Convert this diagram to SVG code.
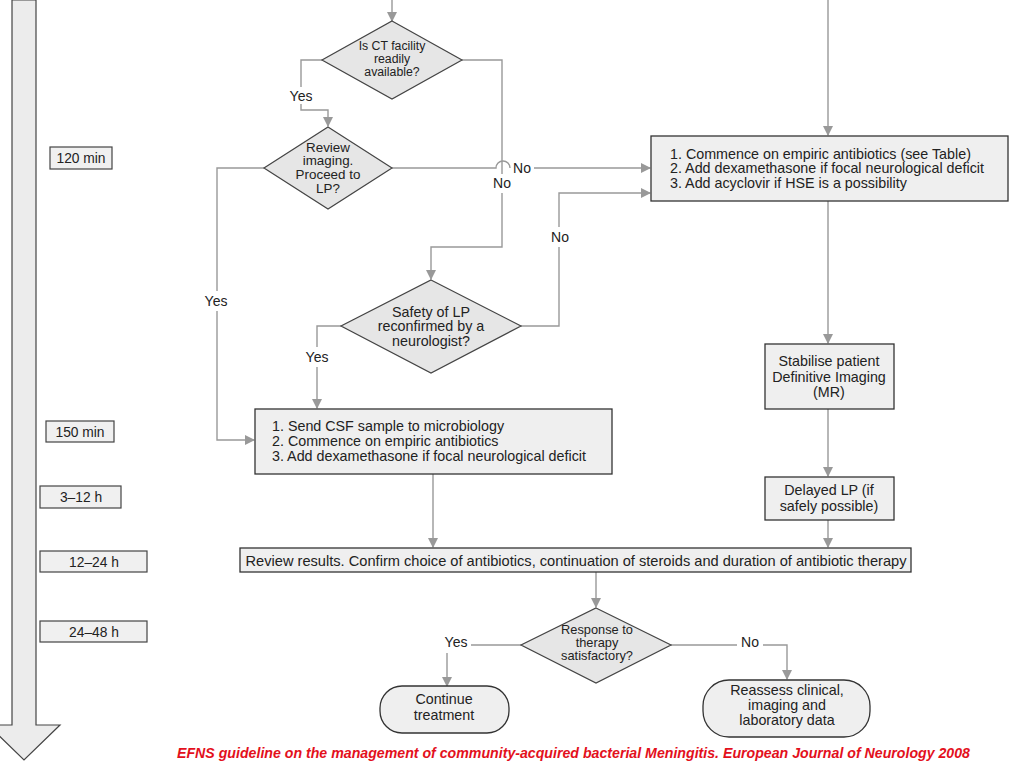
<svg xmlns="http://www.w3.org/2000/svg" width="1024" height="768" viewBox="0 0 1024 768">
<defs>
<style>
text{font-family:"Liberation Sans",Arial,sans-serif;fill:#222;}
.t13{font-size:14.3px;}
.tl{font-size:13.8px;}
.lb{font-size:14px;}
.t12{font-size:13.4px;}
.t12b{font-size:12.8px;}
.t11{font-size:12.3px;}
.mid{text-anchor:middle;}
.box{fill:#efefef;stroke:#333;stroke-width:1.3;}
.tbox{fill:#f0f0f0;stroke:#444;stroke-width:1.2;}
.dia{fill:#e6e6e6;stroke:#444;stroke-width:1.2;}
.ln{fill:none;stroke:#999;stroke-width:1.4;}
.arr{marker-end:url(#ah);}
.cap{font-size:14px;font-weight:bold;font-style:italic;fill:#e3101c;}
</style>
<marker id="ah" markerWidth="10" markerHeight="10" refX="9" refY="5" orient="auto" markerUnits="userSpaceOnUse">
<path d="M0,0 L10,5 L0,10 Z" fill="#999"/>
</marker>
</defs>
<rect width="1024" height="768" fill="#fff"/>

<g id="timeline">
<path d="M12,0 L36,0 L36,725 L60,725 L24,760 L-12,725 L12,725 Z" fill="#ececec" stroke="#444" stroke-width="1.2"/>
</g>
<g id="t120"><rect class="tbox" x="50" y="147" width="62" height="22"/><text class="tl mid" x="81" y="163">120 min</text></g>
<g id="t150"><rect class="tbox" x="46" y="421" width="68" height="21"/><text class="tl mid" x="80" y="436.5">150 min</text></g>
<g id="t3"><rect class="tbox" x="40" y="486" width="81" height="22"/><text class="tl mid" x="81" y="502">3–12 h</text></g>
<g id="t12"><rect class="tbox" x="40" y="551" width="107" height="21"/><text class="tl mid" x="94" y="566.5">12–24 h</text></g>
<g id="t24"><rect class="tbox" x="40" y="621" width="107" height="21"/><text class="tl mid" x="94" y="636.5">24–48 h</text></g>

<g id="connectors">
<path class="ln arr" d="M392,0 V21"/>
<path class="ln arr" d="M828,0 V135"/>
<path class="ln" d="M322,60 H301 V87"/>
<path class="ln arr" d="M301,104 V110 H328 V126"/>
<path class="ln" d="M264,168 H217 V291"/>
<path class="ln arr" d="M217,311 V440 H254"/>
<path class="ln" d="M392,168 H496 A7,7 0 0 1 510,168"/>
<path class="ln arr" d="M534,168 H650"/>
<path class="ln" d="M462,60 H502 V174"/>
<path class="ln arr" d="M502,193 V247 H431 V279"/>
<path class="ln" d="M521,326 H559 V247"/>
<path class="ln arr" d="M559,227 V193 H650"/>
<path class="ln" d="M341,326 H317 V347"/>
<path class="ln arr" d="M317,367 V408"/>
<path class="ln arr" d="M828,201 V343"/>
<path class="ln arr" d="M828,409 V476"/>
<path class="ln arr" d="M828,520 V547"/>
<path class="ln arr" d="M433,474 V547"/>
<path class="ln arr" d="M596,572 V607"/>
<path class="ln" d="M521,645 H471"/>
<path class="ln arr" d="M447,653 V686"/>
<path class="ln" d="M671,645 H737"/>
<path class="ln arr" d="M763,645 H787 V679"/>
<text class="lb mid" x="301" y="101">Yes</text>
<text class="lb mid" x="216" y="306">Yes</text>
<text class="lb mid" x="317" y="362">Yes</text>
<text class="lb mid" x="522" y="173">No</text>
<text class="lb mid" x="502" y="188">No</text>
<text class="lb mid" x="560" y="242">No</text>
<text class="lb mid" x="456" y="647">Yes</text>
<text class="lb mid" x="750" y="647">No</text>
</g>

<g id="ct">
<polygon class="dia" points="392,21 462,60 392,99 322,60"/>
<text class="t11 mid" x="392" y="50">Is CT facility</text>
<text class="t11 mid" x="392" y="63">readily</text>
<text class="t11 mid" x="392" y="75.5">available?</text>
</g>
<g id="review">
<polygon class="dia" points="328,127 392,168 328,209 264,168"/>
<text class="t12 mid" x="328" y="152">Review</text>
<text class="t12 mid" x="328" y="165">imaging.</text>
<text class="t12 mid" x="328" y="179">Proceed to</text>
<text class="t12 mid" x="328" y="193">LP?</text>
</g>
<g id="safety">
<polygon class="dia" points="431,280 521,326 431,373 341,326"/>
<text class="t13 mid" x="431" y="317">Safety of LP</text>
<text class="t13 mid" x="431" y="331">reconfirmed by a</text>
<text class="t13 mid" x="431" y="346">neurologist?</text>
</g>
<g id="commence">
<rect class="box" x="651" y="136" width="357" height="65"/>
<text class="t13" x="670" y="159">1. Commence on empiric antibiotics (see Table)</text>
<text class="t13" x="670" y="173">2. Add dexamethasone if focal neurological deficit</text>
<text class="t13" x="670" y="188">3. Add acyclovir if HSE is a possibility</text>
</g>
<g id="csf">
<rect class="box" x="255" y="409" width="357" height="65"/>
<text class="t13" x="272" y="431">1. Send CSF sample to microbiology</text>
<text class="t13" x="272" y="446">2. Commence on empiric antibiotics</text>
<text class="t13" x="272" y="461">3. Add dexamethasone if focal neurological deficit</text>
</g>
<g id="stabilise">
<rect class="box" x="765" y="344" width="129" height="65"/>
<text class="t13 mid" x="829" y="366">Stabilise patient</text>
<text class="t13 mid" x="829" y="382">Definitive Imaging</text>
<text class="t13 mid" x="829" y="397">(MR)</text>
</g>
<g id="delayed">
<rect class="box" x="765" y="477" width="129" height="43"/>
<text class="t13 mid" x="829" y="495">Delayed LP (if</text>
<text class="t13 mid" x="829" y="511">safely possible)</text>
</g>
<g id="results">
<rect class="box" x="240" y="548" width="671" height="24"/>
<text class="t13 mid" x="576" y="565.5" textLength="661" lengthAdjust="spacingAndGlyphs">Review results. Confirm choice of antibiotics, continuation of steroids and duration of antibiotic therapy</text>
</g>
<g id="response">
<polygon class="dia" points="596,608 671,645 596,683 521,645"/>
<text class="t12b mid" x="597" y="633.5">Response to</text>
<text class="t12b mid" x="597" y="646.5">therapy</text>
<text class="t12b mid" x="597" y="659.5">satisfactory?</text>
</g>
<g id="continue">
<rect class="box" x="380" y="686" width="129" height="47" rx="22" ry="22"/>
<text class="t13 mid" x="444" y="704">Continue</text>
<text class="t13 mid" x="444" y="720">treatment</text>
</g>
<g id="reassess">
<rect class="box" x="703" y="680" width="167" height="57" rx="26" ry="26"/>
<text class="t13 mid" x="787" y="695">Reassess clinical,</text>
<text class="t13 mid" x="787" y="710">imaging and</text>
<text class="t13 mid" x="787" y="725">laboratory data</text>
</g>
<text class="cap" x="177" y="758" textLength="793" lengthAdjust="spacingAndGlyphs">EFNS guideline on the management of community-acquired bacterial Meningitis. European Journal of Neurology 2008</text>
</svg>
